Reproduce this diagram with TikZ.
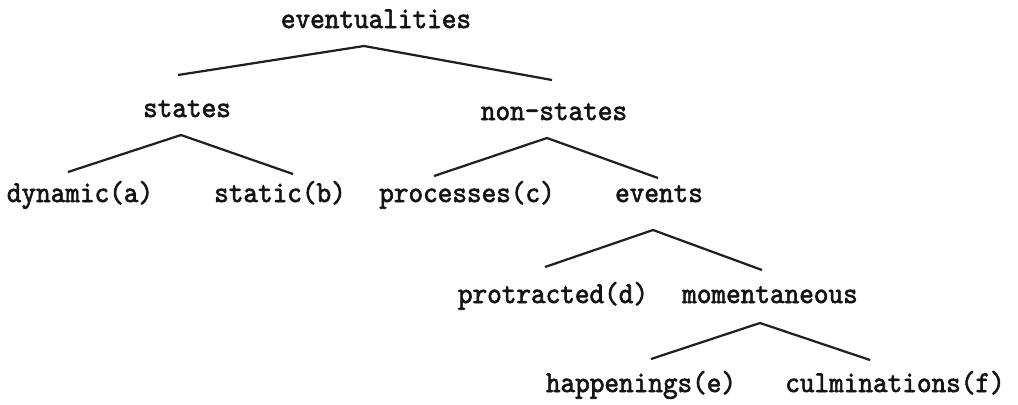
\documentclass[tikz,border=0pt]{standalone}
\usepackage{fontspec}
\usetikzlibrary{calc}
% typewriter face of the tree labels, slightly heavier and taller than plain lmtt
\newfontfamily\treefont[FakeBold=2,FakeStretch=0.92]{lmmono10-regular.otf}
\begin{document}
\begin{tikzpicture}[x=0.36pt,y=-0.36pt,
  label/.style={anchor=base,inner sep=0pt,font=\fontsize{10.9}{13}\selectfont\treefont,text=black!92},
  branch/.style={line width=0.8pt,draw=black!88}]
\useasboundingbox (0,0) rectangle (1018,404);
\fill[white] (0,0) rectangle (1018,404);

% labels of the tree, placed on their baselines
\node[label] (ev)  at (376,28)  {eventualities};
\node[label] (st)  at (187,117) {states};
\node[label] (ns)  at (554,120) {non-states};
\node[label] (dyn) at (80,202)  {dynamic(a)};
\node[label] (sta) at (280,202) {static(b)};
\node[label] (pro) at (467,202) {processes(c)};
\node[label] (evt) at (659,202) {events};
\node[label] (prt) at (553,303) {protracted(d)};
\node[label] (mom) at (770,303) {momentaneous};
\node[label] (hap) at (641,392) {happenings(e)};
\node[label] (cul) at (895,392) {culminations(f)};

% branches: each pair of lines meets just below its parent
\draw[branch] ($(st.base)+(-9,-42)$) -- ($(ev.base)+(-12,18)$) -- ($(ns.base)+(-2,-40)$);
\draw[branch] ($(dyn.base)+(-12,-30)$) -- ($(st.base)+(-6,18)$) -- ($(sta.base)+(13,-28)$);
\draw[branch] ($(pro.base)+(-33,-26)$) -- ($(ns.base)+(-7,18)$) -- ($(evt.base)+(-1,-24)$);
\draw[branch] ($(prt.base)+(-8,-36)$) -- ($(evt.base)+(-6,28)$) -- ($(mom.base)+(-8,-33)$);
\draw[branch] ($(hap.base)+(10,-33)$) -- ($(mom.base)+(-10,20)$) -- ($(cul.base)+(-25,-32)$);
\end{tikzpicture}
\end{document}
